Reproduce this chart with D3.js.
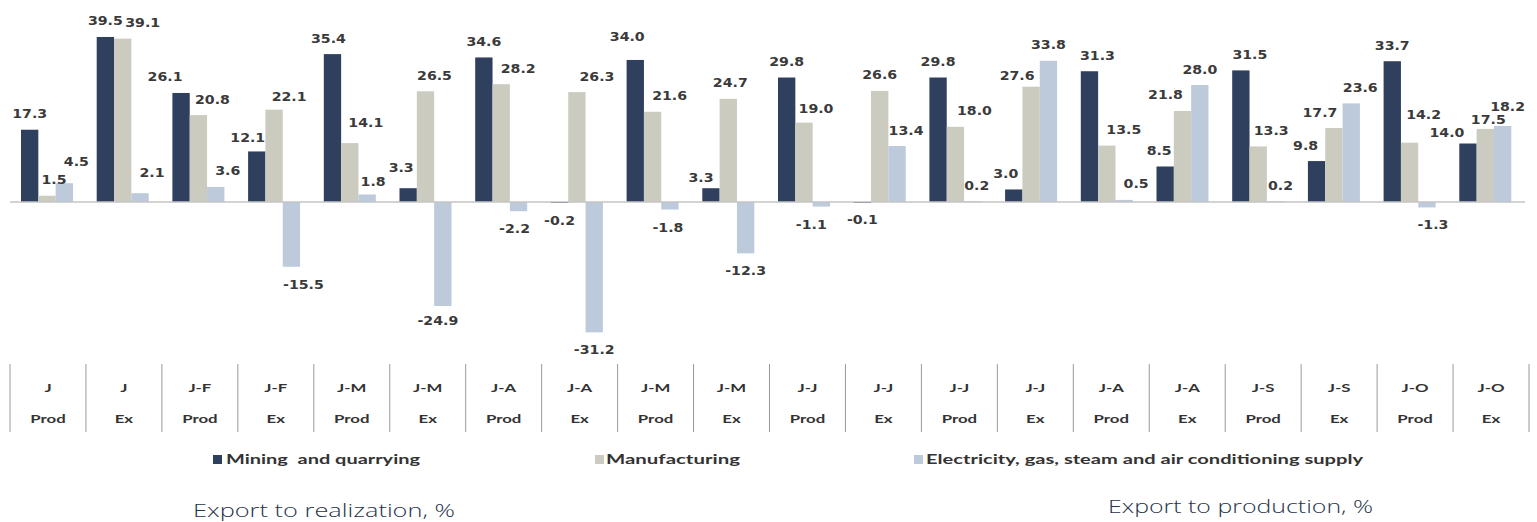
<!DOCTYPE html>
<html>
<head>
<meta charset="utf-8">
<script src="https://cdn.jsdelivr.net/npm/d3@7"></script>
<style>
  html, body { margin: 0; padding: 0; background: #fff; }
  svg { display: block; }
  .legtext { white-space: pre; }
</style>
</head>
<body>
<svg id="chart" width="1537" height="522"></svg>
<script>
// ---- data ----
const periods = ["J", "J", "J-F", "J-F", "J-M", "J-M", "J-A", "J-A", "J-M", "J-M",
                 "J-J", "J-J", "J-J", "J-J", "J-A", "J-A", "J-S", "J-S", "J-O", "J-O"];
const kinds = ["Prod", "Ex", "Prod", "Ex", "Prod", "Ex", "Prod", "Ex", "Prod", "Ex",
               "Prod", "Ex", "Prod", "Ex", "Prod", "Ex", "Prod", "Ex", "Prod", "Ex"];
const seriesNames = ["Mining  and quarrying", "Manufacturing",
                     "Electricity, gas, steam and air conditioning supply"];
const mining = [17.3, 39.5, 26.1, 12.1, 35.4, 3.3, 34.6, -0.2, 34.0, 3.3,
                29.8, -0.1, 29.8, 3.0, 31.3, 8.5, 31.5, 9.8, 33.7, 14.0];
const manufacturing = [1.5, 39.1, 20.8, 22.1, 14.1, 26.5, 28.2, 26.3, 21.6, 24.7,
                       19.0, 26.6, 18.0, 27.6, 13.5, 21.8, 13.3, 17.7, 14.2, 17.5];
const electricity = [4.5, 2.1, 3.6, -15.5, 1.8, -24.9, -2.2, -31.2, -1.8, -12.3,
                     -1.1, 13.4, 0.2, 33.8, 0.5, 28.0, 0.2, 23.6, -1.3, 18.2];
const titles = ["Export to realization, %", "Export to production, %"];

// ---- styles / layout (label nudges as in the original, in px) ----
const colors = ["#2f3f5e", "#cbcbbf", "#bccadc"];
const nudgeX = [
  [0, 0, -16, -9, -4, -7, 0, 0, -8, -10, 0, 0, 0, -8, 8, -6, 9, -11, 0, -21],
  [7, 20, 14, 15, 16, 9, 17, 20, 17, 2, 12, 0, 19, -14, 17, -17, 13, -14, 14, 3],
  [12, 12, 12, 12, 6, -5, -4, 0, -2, 0, -10, 9, 4, 0, 12, 0, 5, 9, 6, 5]
];
const nudgeY = [
  [0, 0, 0, 2, 0, -5, 0, 0, -7, 5, 0, 0, 0, 0, 0, 0, 0, 0, 0, 5],
  [0, 0, 0, 3, -5, 0, 0, 0, 0, 0, 2, 0, 0, 5, 0, 0, 0, 0, -12, 7],
  [-6, -5, 0, 0, 3, -3, 0, 0, 0, 0, 0, 0, 0, 0, 0, 0, 0, 0, 0, -3]
];

const svg = d3.select("#chart");
const series = [mining, manufacturing, electricity];
const idx = d3.range(periods.length);

const x = d3.scaleBand().domain(idx).range([10, 1524]).paddingInner(0).paddingOuter(0);
const x1 = d3.scaleBand().domain([0, 1, 2]).range([11, 63]).padding(0);
const y = d3.scaleLinear().domain([-40, 40]).range([369.1, 34.9]);
const xc = d3.scaleBand().domain(idx).range([10, 1529]);

// bars
const groups = svg.append("g").selectAll("g").data(idx).join("g")
  .attr("transform", i => `translate(${x(i)},0)`);

groups.selectAll("rect").data(i => series.map((s, k) => ({i, k, v: s[i]}))).join("rect")
  .attr("x", d => x1(d.k))
  .attr("width", x1.bandwidth())
  .attr("y", d => y(Math.max(0, d.v)))
  .attr("height", d => Math.max(1, Math.abs(y(d.v) - y(0))))
  .attr("fill", d => colors[d.k]);

// axis line at zero
const axisG = svg.append("g").attr("transform", `translate(0,${y(0)})`)
  .call(d3.axisBottom(x).tickSize(0).tickFormat(""));
axisG.select(".domain").attr("stroke", "#c4c4c4").attr("stroke-width", 1.5)
  .attr("d", `M10,0H1525`);

// value labels
groups.selectAll("text.val").data(i => series.map((s, k) => ({i, k, v: s[i]}))).join("text")
  .attr("class", "val")
  .attr("transform", d => {
    const cx = x1(d.k) + x1.bandwidth() / 2 + nudgeX[d.k][d.i];
    const cy = (d.v >= 0 ? y(d.v) - 11.5 : y(d.v) + 22) + nudgeY[d.k][d.i];
    return `translate(${cx},${cy}) scale(1.18,1)`;
  })
  .attr("text-anchor", "middle")
  .attr("font-family", "DejaVu Sans")
  .attr("font-weight", "bold")
  .attr("font-size", 12)
  .attr("fill", "#3a3a3a")
  .text(d => d.v.toFixed(1));

// category labels & separators
const catG = svg.append("g");
catG.selectAll("line").data(d3.range(periods.length + 1)).join("line")
  .attr("x1", i => 10 + i * xc.bandwidth())
  .attr("x2", i => 10 + i * xc.bandwidth())
  .attr("y1", 364).attr("y2", 432)
  .attr("stroke", "#9a9a9a").attr("stroke-width", 1);

catG.selectAll("text.p").data(idx).join("text").attr("class", "p")
  .attr("transform", i => `translate(${xc(i) + xc.bandwidth() / 2},392) scale(1.4,1)`)
  .attr("text-anchor", "middle")
  .attr("font-family", "Lato").attr("font-weight", "bold").attr("font-size", 12)
  .attr("fill", "#333").text(i => periods[i]);

catG.selectAll("text.k").data(idx).join("text").attr("class", "k")
  .attr("transform", i => `translate(${xc(i) + xc.bandwidth() / 2},423) scale(1.4,1)`)
  .attr("text-anchor", "middle")
  .attr("font-family", "Lato").attr("font-weight", "bold").attr("font-size", 12)
  .attr("fill", "#333").text(i => kinds[i]);

// legend
const legendPos = [{mx: 213, tx: 226, tw: 194}, {mx: 595, tx: 606, tw: 134}, {mx: 914, tx: 926, tw: 437}];
const leg = svg.append("g").selectAll("g").data(seriesNames).join("g");
leg.append("rect")
  .attr("x", (d, k) => legendPos[k].mx).attr("y", 455)
  .attr("width", 9).attr("height", 9)
  .attr("fill", (d, k) => colors[k]);
leg.append("text")
  .attr("class", "legtext")
  .attr("x", (d, k) => legendPos[k].tx).attr("y", 464)
  .attr("textLength", (d, k) => legendPos[k].tw)
  .attr("lengthAdjust", "spacingAndGlyphs")
  .attr("font-family", "Lato").attr("font-weight", "bold").attr("font-size", 13)
  .attr("fill", "#333").text(d => d);

// titles
const titlePos = [{x: 193, y: 517, w: 262}, {x: 1108, y: 513, w: 265}];
svg.append("g").selectAll("text").data(titles).join("text")
  .attr("x", (d, k) => titlePos[k].x).attr("y", (d, k) => titlePos[k].y)
  .attr("textLength", (d, k) => titlePos[k].w)
  .attr("lengthAdjust", "spacingAndGlyphs")
  .attr("font-family", "Open Sans").attr("font-weight", 300).attr("font-size", 19)
  .attr("fill", "#26344a").text(d => d);
</script>
</body>
</html>
